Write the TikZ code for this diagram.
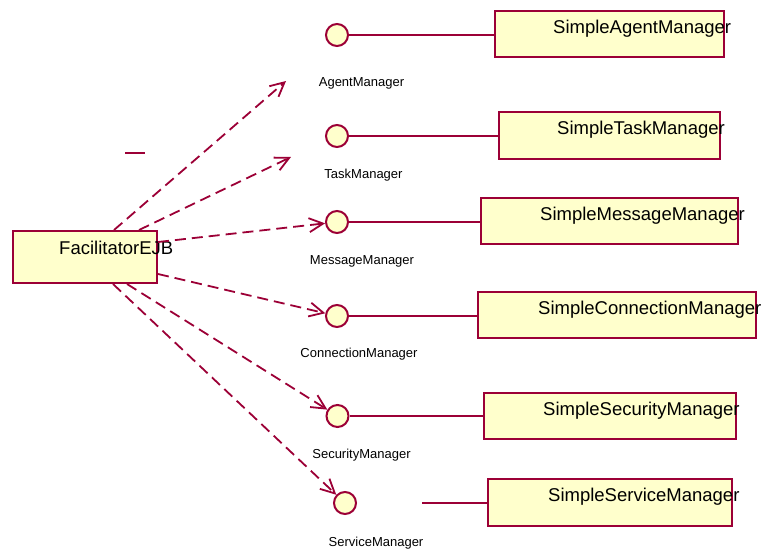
\documentclass[tikz,border=0pt]{standalone}
\usepackage{fontspec}
\setmainfont{Liberation Sans}
\usepackage{tikz}
\usetikzlibrary{arrows.meta,calc}
\definecolor{umlred}{HTML}{9C0036}
\definecolor{umlfill}{HTML}{FFFFCC}

\tikzset{
  cls/.style={draw=umlred,fill=umlfill,line width=2pt,inner sep=0pt},
  iface/.style={circle,draw=umlred,fill=umlfill,line width=2pt,minimum size=22pt,inner sep=0pt},
  clsname/.style={anchor=base west,inner sep=0pt,font=\fontsize{18.5}{20}\selectfont},
  ifname/.style={anchor=base,inner sep=0pt,font=\fontsize{13}{15}\selectfont},
  link/.style={umlred,line width=1.8pt},
  dep/.style={umlred,line width=1.8pt,dash pattern=on 11pt off 6pt,-{Straight Barb[length=14pt,width=14pt]}}
}

\begin{document}
\begin{tikzpicture}[x=1pt,y=-1pt]
  \useasboundingbox (0,0) rectangle (763,549);

  % client
  \node[cls,minimum width=144pt,minimum height=52pt] (fac) at (85,257) {};
  \node[clsname] (facName) at ($(fac.north west)+(47,24)$) {FacilitatorEJB};
  \draw[link,line width=2pt] (125,153)--(145,153);

  % interfaces
  \node[iface] (agentIf) at (337,35) {};
  \node[iface] (taskIf) at (337,136) {};
  \node[iface] (msgIf) at (337,222) {};
  \node[iface] (connIf) at (337,316) {};
  \node[iface] (secIf) at (337.5,416) {};
  \node[iface] (servIf) at (345,503) {};
  \node[ifname] (agentLbl) at (361.5,86) {AgentManager};
  \node[ifname] (taskLbl) at (363.5,178) {TaskManager};
  \node[ifname] (msgLbl) at (362,264) {MessageManager};
  \node[ifname] (connLbl) at (359,357) {ConnectionManager};
  \node[ifname] (secLbl) at (361.5,458) {SecurityManager};
  \node[ifname] (servLbl) at (376,546) {ServiceManager};

  % implementations
  \node[cls,minimum width=229pt,minimum height=46pt] (agentImpl) at (609.5,34) {};
  \node[cls,minimum width=221pt,minimum height=47pt] (taskImpl) at (609.5,135.5) {};
  \node[cls,minimum width=257pt,minimum height=46pt] (msgImpl) at (609.5,221) {};
  \node[cls,minimum width=278pt,minimum height=46pt] (connImpl) at (617,315) {};
  \node[cls,minimum width=252pt,minimum height=46pt] (secImpl) at (610,416) {};
  \node[cls,minimum width=244pt,minimum height=47pt] (servImpl) at (610,502.5) {};
  \node[clsname] (agentName) at ($(agentImpl.north west)+(59,23)$) {SimpleAgentManager};
  \node[clsname] (taskName) at ($(taskImpl.north west)+(59,23)$) {SimpleTaskManager};
  \node[clsname] (msgName) at ($(msgImpl.north west)+(60,23)$) {SimpleMessageManager};
  \node[clsname] (connName) at ($(connImpl.north west)+(61,23)$) {SimpleConnectionManager};
  \node[clsname] (secName) at ($(secImpl.north west)+(60,23)$) {SimpleSecurityManager};
  \node[clsname] (servName) at ($(servImpl.north west)+(61,23)$) {SimpleServiceManager};

  % realizations
  \draw[link] (agentIf.east) -- (agentIf.east -| agentImpl.west);
  \draw[link] (taskIf.east) -- (taskIf.east -| taskImpl.west);
  \draw[link] (msgIf.east) -- (msgIf.east -| msgImpl.west);
  \draw[link] (connIf.east) -- (connIf.east -| connImpl.west);
  \draw[link] (secIf.east) -- (secIf.east -| secImpl.west);
  \coordinate (servStub) at (422,503);
  \draw[link] (servStub) -- (servStub -| servImpl.west);

  % dependencies
  \coordinate (agentTip) at (286,81);
  \coordinate (taskTip) at (291,157);
  \draw[dep] ($(fac.north west)+(102,0)$) -- (agentTip);
  \draw[dep] ($(fac.north west)+(127,0)$) -- (taskTip);
  \draw[dep] ($(fac.north east)+(0,12)$) -- (msgIf);
  \draw[dep] ($(fac.north east)+(0,44)$) -- (connIf);
  \draw[dep] ($(fac.south west)+(115,0)$) -- (secIf);
  \draw[dep] ($(fac.south west)+(101,0)$) -- (servIf);
\end{tikzpicture}
\end{document}
